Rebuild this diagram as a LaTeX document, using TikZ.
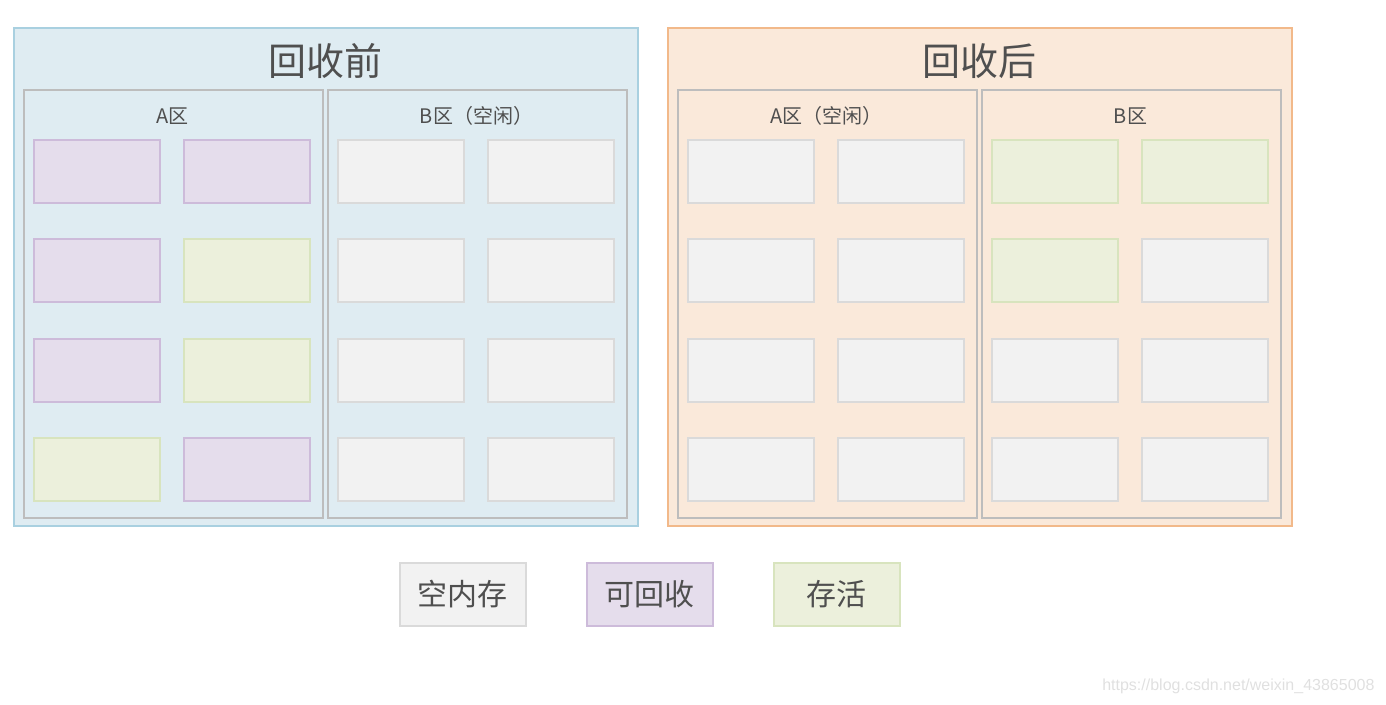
\documentclass[tikz,border=0pt]{standalone}
\usepackage{fontspec}
\setmainfont{Noto Sans CJK SC}
\newfontfamily\wmfont{Liberation Sans}
\definecolor{txt}{HTML}{4F4F4F}
\definecolor{bluefill}{HTML}{DFECF2}
\definecolor{blueline}{HTML}{A9D0E0}
\definecolor{orfill}{HTML}{FAE9DA}
\definecolor{orline}{HTML}{F2B98A}
\definecolor{panelline}{HTML}{BDBDBD}
\definecolor{efill}{HTML}{F2F2F2}
\definecolor{eline}{HTML}{DADADA}
\definecolor{pfill}{HTML}{E5DDEC}
\definecolor{pline}{HTML}{CDBBDA}
\definecolor{gfill}{HTML}{ECF0DC}
\definecolor{gline}{HTML}{D8E4BE}
\tikzset{
  outerbox/.style={draw=#1, line width=1.5pt, anchor=north west, inner sep=0},
  panelbox/.style={draw=panelline, line width=1.5pt, minimum width=299pt, minimum height=428pt, anchor=north west, inner sep=0},
  cellE/.style={draw=eline, fill=efill, line width=1.5pt, minimum width=126pt, minimum height=63pt, anchor=north west, inner sep=0},
  cellP/.style={cellE, draw=pline, fill=pfill},
  cellG/.style={cellE, draw=gline, fill=gfill},
  title/.style={text=txt, font=\fontsize{38}{44}\selectfont},
  plabel/.style={text=txt, font=\fontsize{20}{24}\selectfont},
  legtext/.style={text=txt, font=\fontsize{30}{34}\selectfont},
}
\begin{document}
\begin{tikzpicture}[x=1pt,y=-1pt]
\useasboundingbox (0,0) rectangle (1386,704);
% outer frames
\node[outerbox=blueline, fill=bluefill, minimum width=624pt, minimum height=498pt] (before) at (13,27) {};
\node[outerbox=orline, fill=orfill, minimum width=624pt, minimum height=498pt] (after) at (667,27) {};
\node[title] (tb) at (325,61) {回收前};
\node[title] (ta) at (979,61) {回收后};
% panels
\node[panelbox] (pA1) at (23,89) {};
\node[panelbox] (pB1) at (327,89) {};
\node[panelbox] (pA2) at (677,89) {};
\node[panelbox] (pB2) at (981,89) {};
\node[plabel] (lA1) at (172.5,116) {A区};
\node[plabel] (lB1) at (476.5,116) {B区（空闲）};
\node[plabel] (lA2) at (826.5,116) {A区（空闲）};
\node[plabel] (lB2) at (1130.5,116) {B区};
% cells
\foreach \r/\y in {1/139,2/238,3/338,4/437}{
  \foreach \c/\x in {1/337,2/487}{ \node[cellE] (b1-\r-\c) at (\x,\y) {}; }
  \foreach \c/\x in {1/687,2/837}{ \node[cellE] (a2-\r-\c) at (\x,\y) {}; }
}
\node[cellP] (a1-1-1) at (33,139) {};
\node[cellP] (a1-1-2) at (183,139) {};
\node[cellP] (a1-2-1) at (33,238) {};
\node[cellG] (a1-2-2) at (183,238) {};
\node[cellP] (a1-3-1) at (33,338) {};
\node[cellG] (a1-3-2) at (183,338) {};
\node[cellG] (a1-4-1) at (33,437) {};
\node[cellP] (a1-4-2) at (183,437) {};
% right B
\node[cellG] (b2-1-1) at (991,139) {};
\node[cellG] (b2-1-2) at (1141,139) {};
\node[cellG] (b2-2-1) at (991,238) {};
\node[cellE] (b2-2-2) at (1141,238) {};
\node[cellE] (b2-3-1) at (991,338) {};
\node[cellE] (b2-3-2) at (1141,338) {};
\node[cellE] (b2-4-1) at (991,437) {};
\node[cellE] (b2-4-2) at (1141,437) {};
% legend
\node[cellE] (legE) at (399,562) {};
\node[legtext] at (legE.center) {空内存};
\node[cellP] (legP) at (586,562) {};
\node[legtext] at (legP.center) {可回收};
\node[cellG] (legG) at (773,562) {};
\node[legtext] at (legG.center) {存活};
% watermark
\node[text=black!12, font=\wmfont\fontsize{16}{18}\selectfont, anchor=east] (wm) at (1378,686) {https://blog.csdn.net/weixin\_43865008};
\end{tikzpicture}
\end{document}
